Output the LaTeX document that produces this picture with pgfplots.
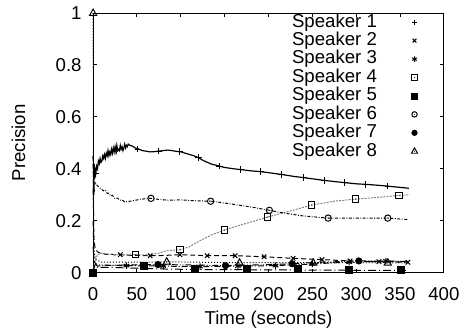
\documentclass[border=0pt]{standalone}
\usepackage{fontspec}
\setmainfont{Liberation Sans}
\usepackage{pgfplots}
\pgfplotsset{compat=1.18}
\newcommand\f{\fontsize{9.4pt}{9.4pt}\selectfont}
\makeatletter
\pgfdeclareplotmark{sqdot}{%
  \pgfpathrectangle{\pgfqpoint{-\pgfplotmarksize}{-\pgfplotmarksize}}{\pgfqpoint{2\pgfplotmarksize}{2\pgfplotmarksize}}%
  \pgfusepathqstroke
  \pgfpathcircle{\pgfpointorigin}{0.3pt}\pgfusepathqfill}
\pgfdeclareplotmark{cidot}{%
  \pgfpathcircle{\pgfpointorigin}{\pgfplotmarksize}\pgfusepathqstroke
  \pgfpathcircle{\pgfpointorigin}{0.3pt}\pgfusepathqfill}
\pgfdeclareplotmark{tridot}{%
  \pgfpathmoveto{\pgfqpoint{0pt}{\pgfplotmarksize}}%
  \pgfpathlineto{\pgfqpoint{-0.9\pgfplotmarksize}{-0.6\pgfplotmarksize}}%
  \pgfpathlineto{\pgfqpoint{0.9\pgfplotmarksize}{-0.6\pgfplotmarksize}}%
  \pgfpathclose\pgfusepathqstroke
  \pgfpathcircle{\pgfqpoint{0pt}{-0.1\pgfplotmarksize}}{0.3pt}\pgfusepathqfill}
\makeatother
\begin{document}
\begin{tikzpicture}
\begin{axis}[
  name=ax,
  scale only axis, width=177pt, height=131pt,
  xmin=0, xmax=400, ymin=0, ymax=1,
  clip=false,
  xtick={0,50,...,400},
  ytick={0,0.2,0.4,0.6,0.8,1},
  yticklabels={0,0.2,0.4,0.6,0.8,1},
  tick align=inside, major tick length=2pt,
  axis line style={line width=0.5pt},
  every tick/.style={black, line width=0.5pt},
  /pgf/number format/assume math mode=true,
  tick label style={font=\f},
  every y tick label/.append style={xshift=-2.3pt},
  every x tick label/.append style={yshift=-3.8pt},
  every axis x label/.style={at={(axis description cs:0.5,-0.18)}, anchor=center, font=\f},
  every axis y label/.style={at={(axis description cs:-0.213,0.5)}, anchor=center, rotate=90, font=\f},
  xlabel={Time (seconds)}, ylabel={Precision},
  legend cell align=right, legend plot pos=right,
  legend style={draw=none, fill=none, font=\f, at={(0.925,1)}, anchor=north east,
    inner sep=0pt, outer sep=0pt, row sep=0pt,
    nodes={inner sep=0.5pt, text height=6.6pt, text depth=1.7pt}},
  legend image code/.code={\path (0cm,0cm) (0.68cm,0cm);
    \draw[#1, mark options={scale=0.85}] plot coordinates {(0.64cm,0cm)};},
  mark size=1.6pt,
]
% ---------------- lines ----------------
\addplot[black, line width=0.6pt, forget plot] coordinates {
(0,0.30)(0.5,0.33)(1,0.42)(1.5,0.36)(2,0.40)(3,0.38)(4,0.41)(5,0.40)(6,0.43)(7,0.42)(8,0.44)(9,0.425)(10,0.43)(11,0.45)(12,0.44)(13,0.455)(14,0.44)(15,0.46)(16,0.45)(17,0.47)(18,0.45)(19,0.465)(20,0.455)(21,0.475)(22,0.46)(23,0.48)(24,0.465)(25,0.485)(26,0.465)(27,0.49)(28,0.47)(29,0.475)(30,0.47)(31,0.49)(32,0.475)(33,0.485)(34,0.47)(35,0.48)(36,0.495)(37,0.48)(38,0.49)(39,0.485)(40,0.495)(42,0.49)(45,0.487)(48,0.48)(52,0.476)(56,0.47)(60,0.468)(65,0.465)(70,0.466)(75,0.468)(80,0.47)(85,0.472)(90,0.47)(95,0.467)(100,0.465)(105,0.46)(110,0.455)(115,0.45)(120,0.443)(125,0.433)(130,0.425)(135,0.418)(142,0.412)(150,0.405)(160,0.40)(168,0.397)(180,0.392)(191,0.389)(200,0.385)(215,0.378)(230,0.37)(240,0.366)(255,0.359)(264,0.355)(280,0.349)(300,0.342)(311,0.340)(330,0.335)(345,0.33)(360,0.325)};
\addplot[black, line width=0.5pt, dash pattern=on 2.5pt off 1.5pt, forget plot] coordinates {
(0,0.45)(0.5,0.2)(1,0.12)(2,0.1)(3,0.09)(5,0.08)(8,0.075)(12,0.072)(16,0.07)(20,0.072)(25,0.068)(31,0.069)(40,0.067)(50,0.066)(65,0.065)(80,0.066)(99,0.069)(115,0.067)(130,0.065)(162,0.065)(195,0.061)(228,0.055)(261,0.05)(293,0.045)(326,0.042)(359,0.04)};
\addplot[black, line width=0.5pt, dash pattern=on 3pt off 1pt on 0.5pt off 1pt, forget plot] coordinates {
(0,0.2)(1,0.05)(3,0.03)(5,0.025)(15,0.028)(38,0.027)(60,0.026)(80,0.025)(100,0.024)(122,0.023)(145,0.024)(165,0.025)(190,0.026)(208,0.027)(230,0.03)(250,0.033)(270,0.037)(292,0.04)(315,0.043)(334,0.045)(360,0.043)};
\addplot[gray, line width=0.5pt, dash pattern=on 1pt off 0.6pt, forget plot] coordinates {
(0,0)(2,0.04)(5,0.07)(10,0.075)(20,0.07)(35,0.068)(48,0.069)(60,0.068)(75,0.075)(85,0.085)(99,0.088)(110,0.1)(120,0.12)(135,0.145)(150,0.164)(165,0.18)(180,0.195)(199,0.214)(220,0.233)(249,0.26)(275,0.275)(299,0.283)(325,0.29)(349,0.297)(360,0.30)};
\addplot[black, line width=0.5pt, dash pattern=on 4pt off 1.5pt on 0.5pt off 1.5pt, forget plot] coordinates {
(0,0)(2,0.03)(5,0.02)(20,0.02)(40,0.018)(58,0.016)(80,0.014)(116,0.012)(175,0.011)(234,0.01)(292,0.009)(351,0.009)(360,0.009)};
\addplot[black, line width=0.5pt, dash pattern=on 1.5pt off 0.8pt on 0.4pt off 0.8pt, forget plot] coordinates {
(0,0.45)(0.5,0.4)(1,0.3)(2,0.35)(4.5,0.336)(8,0.325)(12,0.315)(14,0.318)(16,0.305)(18,0.306)(20,0.295)(22,0.298)(25,0.285)(28,0.287)(30,0.279)(33,0.28)(36,0.272)(42,0.275)(50,0.28)(58,0.284)(66,0.286)(75,0.282)(85,0.279)(100,0.28)(115,0.277)(134,0.275)(150,0.268)(170,0.258)(185,0.25)(201,0.24)(220,0.228)(240,0.218)(268,0.21)(300,0.21)(336,0.21)(359,0.204)};
\addplot[black, line width=0.5pt, dash pattern=on 3pt off 1pt on 0.4pt off 1pt on 0.4pt off 1pt, forget plot] coordinates {
(0,0.1)(1,0.04)(5,0.03)(20,0.028)(50,0.03)(74,0.031)(100,0.03)(151,0.027)(190,0.03)(227,0.034)(260,0.04)(303,0.045)(330,0.044)(360,0.042)};
\addplot[black, line width=0.5pt, dash pattern=on 0.5pt off 1pt, forget plot] coordinates {
(0,1)(0.5,0.2)(1,0.08)(3,0.05)(10,0.04)(30,0.04)(60,0.04)(84,0.042)(120,0.04)(167,0.038)(210,0.038)(251,0.038)(290,0.038)(336,0.038)(360,0.037)};
% ---------------- marks ----------------
\addplot[black, only marks, mark=+, line width=0.5pt] coordinates {
(3,0.38)(27,0.47)(51,0.476)(75,0.468)(99,0.466)(120,0.443)(144,0.41)(168,0.397)(191,0.389)(215,0.378)(240,0.366)(264,0.355)(287,0.347)(311,0.340)(336,0.333)};
\addlegendentry{Speaker 1}
\addplot[black, only marks, mark=x, line width=0.5pt] coordinates {
(31,0.069)(65,0.065)(99,0.069)(130,0.065)(162,0.065)(195,0.061)(228,0.055)(261,0.05)(293,0.045)(326,0.042)(359,0.04)};
\addlegendentry{Speaker 2}
\addplot[black, only marks, mark=asterisk, line width=0.5pt] coordinates {
(38,0.027)(80,0.025)(122,0.023)(165,0.025)(208,0.027)(250,0.033)(292,0.04)(334,0.045)};
\addlegendentry{Speaker 3}
\addplot[black, only marks, mark=sqdot, line width=0.5pt] coordinates {
(48,0.069)(99,0.088)(150,0.164)(199,0.214)(249,0.26)(299,0.283)(349,0.297)};
\addlegendentry{Speaker 4}
\addplot[black, only marks, mark=square*, mark size=1.8pt] coordinates {
(0,0)(58,0.027)(116,0.015)(175,0.015)(234,0.015)(292,0.011)(351,0.011)};
\addlegendentry{Speaker 5}
\addplot[black, only marks, mark=cidot, line width=0.5pt] coordinates {
(66,0.286)(134,0.275)(201,0.24)(268,0.21)(336,0.21)};
\addlegendentry{Speaker 6}
\addplot[black, only marks, mark=*, mark size=1.6pt] coordinates {
(74,0.031)(151,0.027)(227,0.034)(303,0.045)};
\addlegendentry{Speaker 7}
\addplot[black, only marks, mark=tridot, mark size=2pt, line width=0.5pt] coordinates {
(0,1)(84,0.042)(167,0.038)(251,0.038)(336,0.038)};
\addlegendentry{Speaker 8}
\end{axis}
\path ([xshift=-47pt,yshift=-30pt]ax.south west) rectangle ([xshift=9pt,yshift=6.5pt]ax.north east);
\end{tikzpicture}
\end{document}
